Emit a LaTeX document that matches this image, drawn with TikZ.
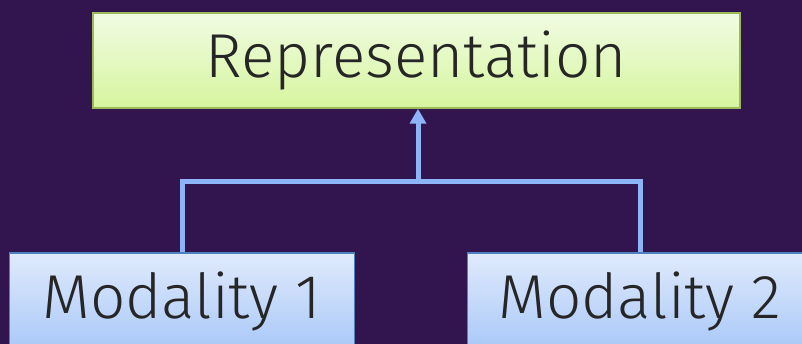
\documentclass[tikz,border=0pt]{standalone}
\usepackage{fontspec}
\setmainfont{Fira Sans Light}
\usetikzlibrary{arrows.meta}

\definecolor{bgpurple}{HTML}{32154F}
\definecolor{greentop}{HTML}{F1FCE3}
\definecolor{greenbot}{HTML}{D6F59E}
\definecolor{greenline}{HTML}{9BBB59}
\definecolor{bluetop}{HTML}{E0EAFC}
\definecolor{bluebot}{HTML}{A9C8F8}
\definecolor{blueline}{HTML}{4F81BD}
\definecolor{linkblue}{HTML}{8DB4F7}
\definecolor{textgrey}{HTML}{262626}

\tikzset{
  repbox/.style={top color=greentop,bottom color=greenbot,draw=greenline,
    minimum width=647pt,minimum height=95pt},
  modbox/.style={top color=bluetop,bottom color=bluebot,draw=blueline,
    minimum width=345pt,minimum height=97pt},
  link/.style={draw=linkblue,line width=5pt}
}

\begin{document}
\begin{tikzpicture}[x=1pt,y=-1pt]

      \fill[bgpurple] (0,0) rectangle (802,344);
      \clip (0,0) rectangle (802,344);

      \begin{scope}[every node/.style={rectangle,line width=1.5pt,inner sep=0pt,text=textgrey}]
        \node[repbox,font=\fontsize{62}{70}\selectfont] (rep)  at (416.5,60.5) {Representation};
        \node[modbox,font=\fontsize{62}{70}\selectfont] (mod1) at (182,301.5) {Modality 1};
        \node[modbox,font=\fontsize{62}{70}\selectfont] (mod2) at (640,301.5) {Modality 2};
      \end{scope}

      \coordinate (join) at (418,181.5);

      \path[link] (mod1.north) |- (join) -| (mod2.north);
      \path[link,-{Triangle[width=16pt,length=15pt]}] (join) -- (rep.south -| join);

    \end{tikzpicture}
\end{document}
